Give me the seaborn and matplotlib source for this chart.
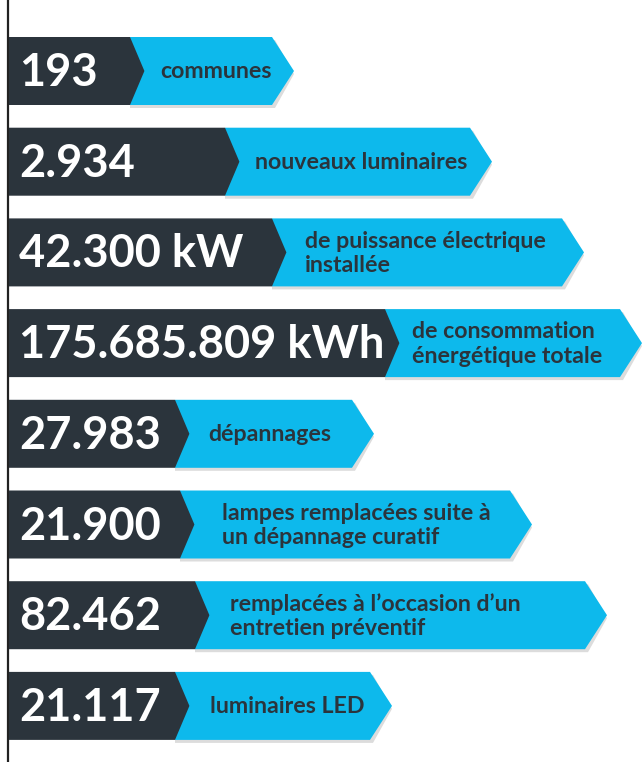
import matplotlib
matplotlib.use("Agg")
import matplotlib.pyplot as plt
from matplotlib.patches import Polygon
import seaborn as sns

# Figures and their captions
values = ["193", "2.934", "42.300 kW", "175.685.809 kWh", "27.983",
          "21.900", "82.462", "21.117"]
labels = ["communes",
          "nouveaux luminaires",
          "de puissance électrique\ninstallée",
          "de consommation\nénergétique totale",
          "dépannages",
          "lampes remplacées suite à\nun dépannage curatif",
          "remplacées à l\u2019occasion d\u2019un\nentretien préventif",
          "luminaires LED"]

# Layout (pixel coordinates in a 643x762 canvas)
dark_end = [130, 225, 272, 385, 175, 180, 195, 175]
blue_end = [272, 470, 562, 620, 352, 510, 585, 370]
label_x = [160, 255, 305, 412, 208, 222, 230, 210]
tip = 18
row_top0, row_step, row_h = 37, 90.7, 68
x0 = 9

DARK = "#2b343c"
BLUE = "#0db9ec"

sns.set_theme(style="white")
plt.rcParams["font.family"] = ["Lato", "DejaVu Sans"]

fig = plt.figure(figsize=(6.43, 7.62), dpi=100)
ax = fig.add_axes([0, 0, 1, 1])
ax.set_xlim(0, 643)
ax.set_ylim(762, 0)
ax.axis("off")

# left vertical rule
ax.plot([8, 8], [0, 762], color="#222222", lw=1.6)

for i, (val, lab) in enumerate(zip(values, labels)):
    top = row_top0 + i * row_step
    bot = top + row_h
    mid = (top + bot) / 2
    de, be = dark_end[i], blue_end[i]
    # soft shadow under the blue arrow
    ax.add_patch(Polygon([(de, top + 3), (be + 3, top + 3), (be + tip + 4, mid + 3),
                          (be + 3, bot + 3), (de, bot + 3)],
                         closed=True, facecolor="#dcdcdc", edgecolor="none", zorder=1))
    ax.add_patch(Polygon([(de, top), (be, top), (be + tip + 4, mid), (be, bot), (de, bot)],
                         closed=True, facecolor=BLUE, edgecolor="none", zorder=2))
    ax.add_patch(Polygon([(x0, top), (de, top), (de + tip * 0.8, mid), (de, bot), (x0, bot)],
                         closed=True, facecolor=DARK, edgecolor="none", zorder=3))
    ax.text(19, mid + 2, val, color="white", fontsize=32.5, fontweight="bold",
            ha="left", va="center", zorder=4)
    ax.text(label_x[i], mid + 1, lab, color=DARK, fontsize=16.7, fontweight="bold",
            ha="left", va="center", linespacing=1.2, zorder=4)

fig.savefig("out.png", dpi=100, facecolor="white")
